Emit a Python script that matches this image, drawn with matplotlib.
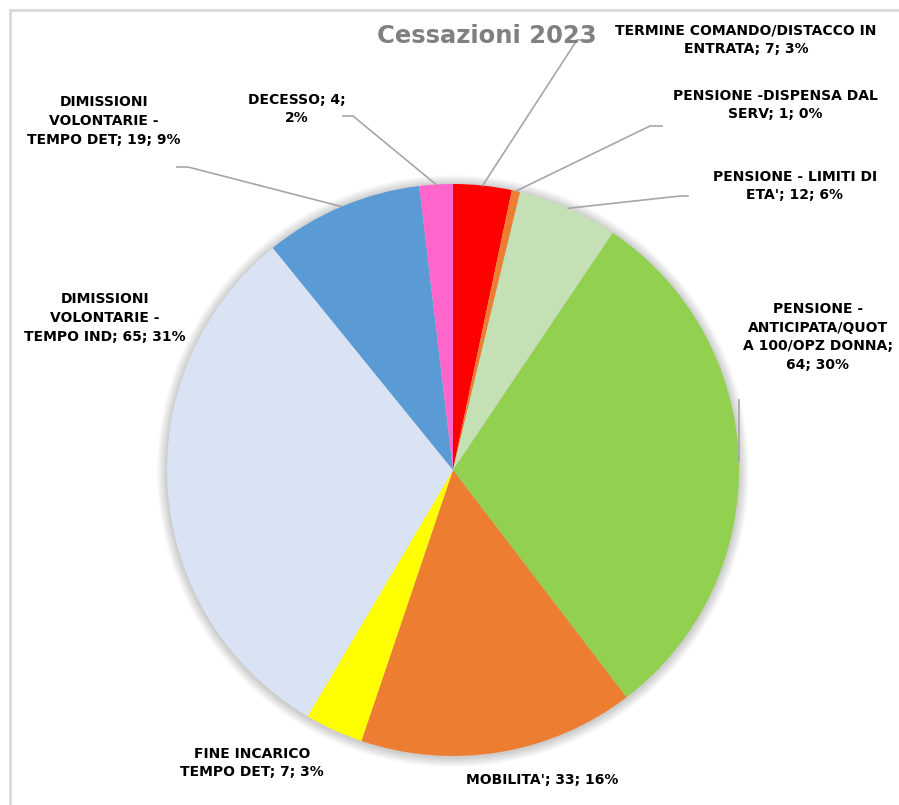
import numpy as np
import matplotlib
matplotlib.use("Agg")
import matplotlib.pyplot as plt
from matplotlib.lines import Line2D
from matplotlib.patches import Circle

W, H = 899, 805

# cessazioni per causa, in senso orario dalle ore 12
labels = [
    "TERMINE COMANDO/DISTACCO IN\nENTRATA; {n}; {p}%",
    "PENSIONE -DISPENSA DAL\nSERV; {n}; {p}%",
    "PENSIONE - LIMITI DI\nETA'; {n}; {p}%",
    "PENSIONE -\nANTICIPATA/QUOT\nA 100/OPZ DONNA;\n{n}; {p}%",
    "MOBILITA'; {n}; {p}%",
    "FINE INCARICO\nTEMPO DET; {n}; {p}%",
    "DIMISSIONI\nVOLONTARIE -\nTEMPO IND; {n}; {p}%",
    "DIMISSIONI\nVOLONTARIE -\nTEMPO DET; {n}; {p}%",
    "DECESSO; {n};\n{p}%",
]
counts = [7, 1, 12, 64, 33, 7, 65, 19, 4]
colors = ["#FF0000", "#ED7D31", "#C5E0B4", "#92D050", "#ED7D31",
          "#FFFF00", "#DAE3F3", "#5B9BD5", "#FF66CC"]

# label placement (pixel coords, y from top) and leader line elbows
label_pos = [(746, 40), (775, 105), (795, 186), (818, 337), (542, 780),
             (252, 763), (105, 318), (104, 121), (297, 109)]
leaders = {
    0: [(577, 40), (589, 40)],
    1: [(650, 126), (662, 126)],
    2: [(680, 196), (688, 196)],
    3: [(739, 400)],
    7: [(188, 167), (177, 167)],
    8: [(353, 116), (343, 116)],
}

cx, cy, R = 453, 470, 286


def py(y):
    return H - y


fig = plt.figure(figsize=(W / 100, H / 100), dpi=100)
ax = fig.add_axes([0, 0, 1, 1])

# soft shadow round the pie
for k in range(1, 11):
    ax.add_patch(Circle((cx, py(cy) - 1), R + k, color="#000000",
                        alpha=0.02, lw=0, zorder=0))

wedges, _ = ax.pie(counts, colors=colors, startangle=90, counterclock=False,
                   center=(cx, py(cy)), radius=R,
                   wedgeprops=dict(linewidth=0, zorder=1))

ax.set_xlim(0, W)
ax.set_ylim(0, H)
ax.set_aspect("equal")
ax.axis("off")

total = sum(counts)
for i, (w, lab, n) in enumerate(zip(wedges, labels, counts)):
    p = round(100 * n / total)
    x, y = label_pos[i]
    ax.text(x, py(y), lab.format(n=n, p=p), ha="center", va="center",
            multialignment="center", fontsize=10, fontweight="bold",
            color="#000000", linespacing=1.45, zorder=3)
    if i in leaders:
        mid = np.deg2rad((w.theta1 + w.theta2) / 2)
        xs = [cx + R * np.cos(mid)] + [p_[0] for p_ in leaders[i]]
        ys = [py(cy) + R * np.sin(mid)] + [py(p_[1]) for p_ in leaders[i]]
        ax.plot(xs, ys, color="#A6A6A6", lw=1.2, zorder=2)

ax.text(487, py(36), "Cessazioni 2023", ha="center", va="center",
        fontsize=17.5, fontweight="bold", color="#808080", zorder=3)

# light frame of the chart area
fig.add_artist(Line2D([10 / W, 10 / W], [0, 1 - 10 / H], transform=fig.transFigure,
                      color="#D9D9D9", lw=2))
fig.add_artist(Line2D([10 / W, 1], [1 - 10 / H, 1 - 10 / H], transform=fig.transFigure,
                      color="#D9D9D9", lw=2))

fig.savefig("out.png", dpi=100, facecolor="white")
